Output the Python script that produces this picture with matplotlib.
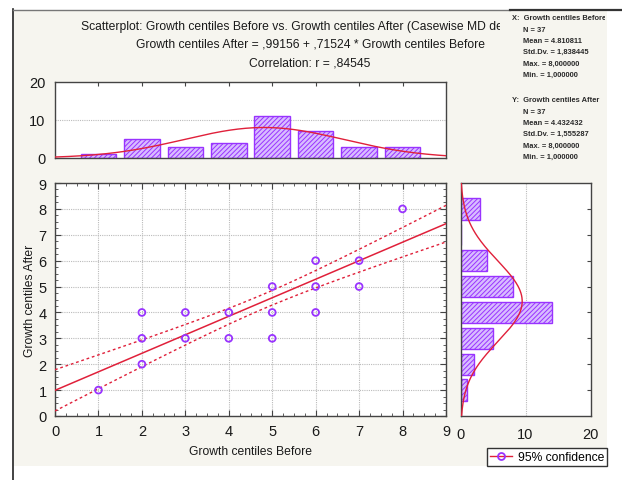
import numpy as np
import matplotlib.pyplot as plt
from matplotlib.lines import Line2D
from matplotlib.patches import Rectangle
from matplotlib.transforms import Bbox
from matplotlib.ticker import MultipleLocator

plt.rcParams['font.family'] = ['Liberation Sans', 'DejaVu Sans']

# distinct (before, after) pairs and how many cases sit on each
before = np.array([1, 2, 2, 2, 3, 3, 4, 4, 5, 5, 5, 6, 6, 6, 7, 7, 8])
after = np.array([1, 2, 3, 4, 3, 4, 3, 4, 3, 4, 5, 4, 5, 6, 5, 6, 8])
cases = np.array([1, 2, 1, 2, 1, 2, 2, 2, 1, 7, 3, 1, 3, 3, 2, 1, 3])

# regression from the header text
intercept = 0.99156
slope = 0.71524
r_value = 0.84545

x_stats = dict(name='Growth centiles Before', n=37, mean=4.810811, sd=1.838445, mx=8.0, mn=1.0)
y_stats = dict(name='Growth centiles After', n=37, mean=4.432432, sd=1.555287, mx=8.0, mn=1.0)

levels = np.arange(1, 9)
x_counts = np.array([cases[before == v].sum() for v in levels])
y_counts = np.array([cases[after == v].sum() for v in levels])


def comma(v, nd):
    # decimal comma, leading zero dropped like ,99156
    s = f'{v:.{nd}f}'.replace('.', ',')
    return s[1:] if s.startswith('0,') else s


W, H = 622, 481
fig = plt.figure(figsize=(W / 100, H / 100), dpi=100)
fig.patch.set_facecolor('white')


def box(l, t, r, b):
    return [l / W, 1 - b / H, (r - l) / W, (b - t) / H]


# beige panel and frame
fig.add_artist(Rectangle((14 / W, 1 - 467 / H), (607 - 14) / W, (467 - 11) / H,
                         transform=fig.transFigure, facecolor='#f6f5ef', edgecolor='none', zorder=0))
fig.add_artist(Line2D([13 / W, 13 / W], [0, 1 - 10 / H], transform=fig.transFigure, color='#222222', lw=1.2))
fig.add_artist(Line2D([13 / W, 510 / W], [1 - 10.5 / H] * 2, transform=fig.transFigure, color='#777777', lw=1.0))
fig.add_artist(Line2D([510 / W, 1], [1 - 10.5 / H] * 2, transform=fig.transFigure, color='#333333', lw=1.6))

purple = '#9933ff'
red = '#e0203a'
bar_face = '#d8bcff'
txt = '#1a1a1a'
grid_kw = dict(color='#bbbbbb', linestyle=(0, (1, 1)), linewidth=0.8)

ax_top = fig.add_axes(box(55, 83, 446, 159))
ax_sc = fig.add_axes(box(55, 184, 446, 417))
ax_rt = fig.add_axes(box(460.5, 184, 590.5, 417))

for a in (ax_top, ax_sc, ax_rt):
    a.set_facecolor('white')
    for s in a.spines.values():
        s.set_color('#444444')
        s.set_linewidth(1.0)

# top histogram (before)
plt.rcParams['hatch.linewidth'] = 0.7
plt.rcParams['hatch.color'] = purple
ax_top.bar(levels, x_counts, width=0.82, facecolor=bar_face, edgecolor=purple, hatch='///////', lw=1.0, zorder=2)
xs = np.linspace(0, 9, 200)
pdf_x = x_stats['n'] / (x_stats['sd'] * np.sqrt(2 * np.pi)) * np.exp(-0.5 * ((xs - x_stats['mean']) / x_stats['sd']) ** 2)
ax_top.plot(xs, pdf_x, color=red, lw=1.0, zorder=3)
ax_top.set_xlim(0, 9)
ax_top.set_ylim(0, 20)
ax_top.set_yticks([0, 10, 20])
ax_top.set_xticks(levels)
ax_top.tick_params(axis='x', direction='in', length=3, top=True, bottom=False, labelbottom=False, color='#444444')
ax_top.tick_params(axis='y', direction='in', length=0, labelsize=10.5, pad=7, labelcolor=txt)
ax_top.axhline(10, zorder=1, **grid_kw)

# scatter with fit and 95% band
ax_sc.scatter(before, after, s=24, facecolors='none', edgecolors=purple, linewidths=1.3, zorder=4)
xx = np.repeat(before, cases)
yy = np.repeat(after, cases)
n = len(xx)
resid = yy - (intercept + slope * xx)
s_err = np.sqrt(np.sum(resid ** 2) / (n - 2))
sxx = np.sum((xx - xx.mean()) ** 2)
t_crit = 2.0301
xl = np.linspace(0, 9, 100)
fit = intercept + slope * xl
half = t_crit * s_err * np.sqrt(1 / n + (xl - xx.mean()) ** 2 / sxx)
ax_sc.plot(xl, fit, color=red, lw=1.1, zorder=3)
ax_sc.plot(xl, fit + half, color=red, lw=1.0, ls=(0, (2, 2)), zorder=3)
ax_sc.plot(xl, fit - half, color=red, lw=1.0, ls=(0, (2, 2)), zorder=3)
ax_sc.set_xlim(0, 9)
ax_sc.set_ylim(0, 9)
ax_sc.xaxis.set_major_locator(MultipleLocator(1))
ax_sc.yaxis.set_major_locator(MultipleLocator(1))
ax_sc.xaxis.set_minor_locator(MultipleLocator(0.25))
ax_sc.yaxis.set_minor_locator(MultipleLocator(0.25))
ax_sc.tick_params(which='both', direction='in', top=True, right=True, color='#444444')
ax_sc.tick_params(which='major', length=4, labelsize=10.5, pad=6, labelcolor=txt)
ax_sc.tick_params(which='minor', length=2)
ax_sc.grid(which='major', **grid_kw)
ax_sc.set_axisbelow(True)
ax_sc.set_xlabel('Growth centiles Before', fontsize=8.7, labelpad=5, color=txt)
ax_sc.set_ylabel('Growth centiles After', fontsize=8.7, labelpad=2, color=txt)

# right histogram (after)
ax_rt.barh(levels, y_counts, height=0.82, facecolor=bar_face, edgecolor=purple, hatch='///////', lw=1.0, zorder=2)
ys = np.linspace(0, 9, 200)
pdf_y = y_stats['n'] / (y_stats['sd'] * np.sqrt(2 * np.pi)) * np.exp(-0.5 * ((ys - y_stats['mean']) / y_stats['sd']) ** 2)
ax_rt.plot(pdf_y, ys, color=red, lw=1.0, zorder=3)
ax_rt.set_xlim(0, 20)
ax_rt.set_ylim(0, 9)
ax_rt.set_xticks([0, 10, 20])
ax_rt.set_yticks(levels)
ax_rt.axvline(10, zorder=1, **grid_kw)
ax_rt.tick_params(axis='y', direction='in', length=3, left=False, right=True, labelleft=False, color='#444444')
ax_rt.tick_params(axis='x', direction='in', length=0, labelsize=10.5, pad=8, labelcolor=txt)

# header (first line runs under the stats panel, so it is cut off)
head = fig.text(81 / W, 1 - 27 / H,
                'Scatterplot: Growth centiles Before vs. Growth centiles After (Casewise MD de',
                fontsize=8.7, va='center', ha='left', color=txt)
head.set_clip_box(fig.transFigure.transform_bbox(Bbox([[0, 0], [500 / W, 1]])))
head.set_clip_on(True)
fig.text(310 / W, 1 - 45 / H,
         f'Growth centiles After = {comma(intercept, 5)} + {comma(slope, 5)} * Growth centiles Before',
         fontsize=8.7, va='center', ha='center', color=txt)
fig.text(310 / W, 1 - 63 / H, f'Correlation: r = {comma(r_value, 5)}',
         fontsize=8.7, va='center', ha='center', color=txt)


# descriptive stats at the right
def stats_block(tag, st, y0):
    t = fig.text(512 / W, 1 - y0 / H, f'{tag}:  {st["name"]}', fontsize=5.4, va='center', ha='left',
                 color='#2a2a2a', fontweight='bold')
    t.set_clip_box(fig.transFigure.transform_bbox(Bbox([[0, 0], [605 / W, 1]])))
    t.set_clip_on(True)
    lines = [f'N = {st["n"]}',
             f'Mean = {st["mean"]:.6f}',
             f'Std.Dv. = {comma(st["sd"], 6)}',
             f'Max. = {comma(st["mx"], 6)}',
             f'Min. = {comma(st["mn"], 6)}']
    for i, s in enumerate(lines):
        fig.text(523 / W, 1 - (y0 + 12 + 11.3 * i) / H, s, fontsize=5.4, va='center', ha='left',
                 color='#2a2a2a', fontweight='bold')


stats_block('X', x_stats, 18)
stats_block('Y', y_stats, 100)

# legend
handle = Line2D([], [], color=red, lw=1.0, marker='o', markersize=5, markerfacecolor='none',
                markeredgecolor=purple, markeredgewidth=1.3)
fig.legend([handle], ['95% confidence'], loc='center', bbox_to_anchor=(547 / W, 1 - 458 / H),
           fontsize=8.7, frameon=True, fancybox=False, edgecolor='#333333', framealpha=1,
           handlelength=1.8, handletextpad=0.5, borderpad=0.25, borderaxespad=0)

fig.savefig('out.png', dpi=100, facecolor=fig.get_facecolor())
